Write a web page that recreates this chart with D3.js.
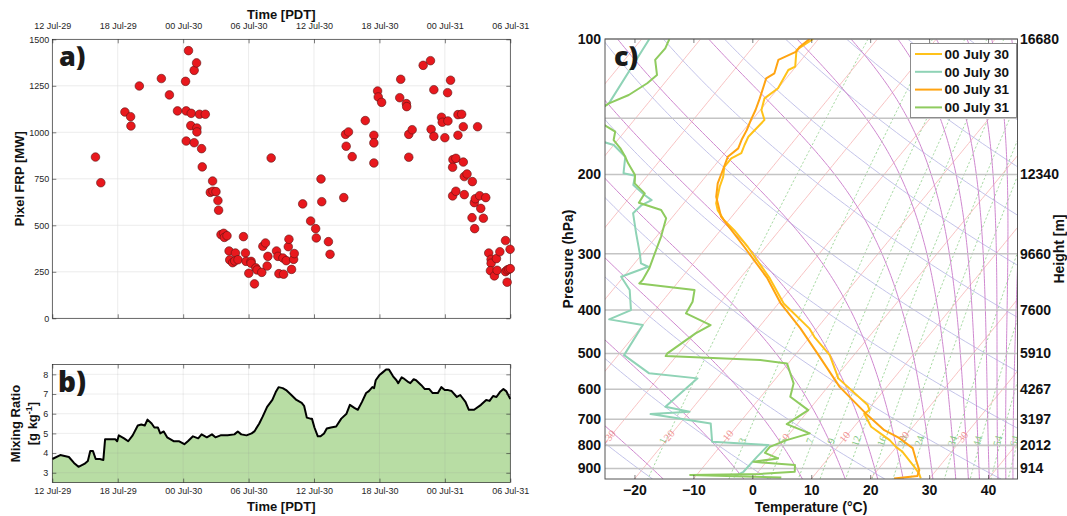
<!DOCTYPE html>
<html>
<head>
<meta charset="utf-8">
<script src="https://cdn.jsdelivr.net/npm/d3@7/dist/d3.min.js"></script>
<style>
  html, body { margin: 0; padding: 0; background: #fff; }
  svg { display: block; }
</style>
</head>
<body>
<svg id="fig" width="1067" height="516"></svg>
<script>
// ---------- time axis (hours after 12 PDT, 29 July) ----------
const tickHours  = [0, 6, 12, 18, 24, 30, 36, 42];
const tickLabels = ["12 Jul-29", "18 Jul-29", "00 Jul-30", "06 Jul-30", "12 Jul-30", "18 Jul-30", "00 Jul-31", "06 Jul-31"];

// ---------- a) pixel fire radiative power ----------
const frpTicks = [0, 250, 500, 750, 1000, 1250, 1500];
const frpHours = [3.96,4.45,6.66,7.18,7.21,7.98,10.0,10.74,11.48,12.22,12.28,12.28,12.49,12.74,12.7,13.01,13.23,13.01,13.26,13.26,
  13.5,14.03,13.69,13.75,14.7,14.49,14.73,15.01,15.19,15.25,15.47,15.72,15.78,16.02,16.21,16.27,16.54,16.79,16.73,17.03,
  17.53,17.71,17.77,18.23,18.23,18.02,18.54,18.66,18.78,19.21,19.31,19.55,19.7,19.77,20.07,20.56,20.69,20.78,
  21.15,21.21,21.45,21.64,21.7,21.94,22.13,22.19,22.96,23.69,24.15,24.21,24.64,24.71,25.32,25.47,26.73,26.89,27.16,26.95,
  27.5,28.7,29.49,29.49,29.49,29.83,29.89,30.2,31.95,31.86,32.47,32.5,32.69,33.0,32.69,34.01,34.68,34.99,34.74,34.99,
  35.69,35.76,36.0,36.25,36.28,36.52,37.2,37.54,37.2,37.69,39.0,36.74,37.01,36.71,37.69,37.78,38.03,38.52,36.71,37.01,
  37.78,38.7,38.79,39.19,39.75,39.29,38.49,39.53,38.73,40.02,40.24,40.24,40.18,40.54,40.73,41.04,40.79,41.56,41.98,41.56,
  41.71,41.86,42.0,41.71];
const frpMW = [867,729,1109,1084,1034,1249,1289,1201,1115,1274,1115,953,1439,1102,1036,1333,1373,944,1023,1002,
  1097,1097,912,814,738,677,683,681,633,581,450,457,435,444,362,314,299,351,308,315,
  439,351,306,306,296,242,185,271,260,247,387,405,281,333,862,362,333,240,
  324,237,310,385,425,263,317,348,615,523,482,432,749,627,412,344,649,989,1002,925,
  869,1063,984,943,835,1222,1190,1161,1285,1186,1154,1138,989,1014,866,1360,1385,1229,1016,978,
  1081,1054,971,1213,1061,1280,1095,1097,984,1030,1030,853,860,812,840,762,776,735,658,683,
  665,622,643,659,649,591,541,538,482,351,317,296,256,228,321,358,258,418,371,251,
  260,263,267,194];

// ---------- b) near-surface mixing ratio ----------
const mixTicks = [3, 4, 5, 6, 7, 8];
const mixHours = [0,0.73,1.52,1.99,2.40,2.94,3.26,3.48,3.73,3.98,4.36,4.68,4.84,5.79,5.95,6.10,6.58,6.96,7.37,7.84,
  8.16,8.48,8.73,9.11,9.36,9.68,9.90,10.22,10.53,10.85,11.16,11.64,12.11,12.43,12.90,13.38,13.69,14.17,14.64,14.96,
  15.43,16.07,16.70,17.01,17.33,17.81,18.28,18.53,18.98,19.29,19.70,20.18,20.49,20.75,21.13,21.44,21.92,22.39,22.87,23.09,
  23.34,23.66,23.81,24.04,24.35,24.60,24.92,25.17,25.55,26.03,26.50,26.98,27.29,27.70,28.02,28.40,28.78,29.03,29.35,29.51,
  29.66,29.98,30.30,30.61,30.87,31.25,31.56,31.72,32.04,32.20,32.67,32.83,33.14,33.36,33.84,34.16,34.57,34.88,35.36,35.67,
  35.99,36.31,36.62,37.10,37.41,37.89,38.20,38.68,39.31,39.79,40.10,40.42,40.73,41.05,41.37,41.62,42.0];
const mixRatio = [3.7,3.9,3.8,3.5,3.3,3.45,3.6,4.1,4.1,3.7,3.7,3.65,4.7,4.7,4.6,4.9,4.75,4.6,4.9,5.4,
  5.45,5.4,5.7,5.5,5.3,5.3,5.0,5.1,4.8,4.7,4.6,4.6,4.45,4.6,4.85,4.75,4.95,4.8,4.95,4.8,
  4.9,4.9,4.95,5.1,4.95,4.9,5.0,5.1,5.5,5.85,6.35,6.7,7.1,7.35,7.3,7.2,6.95,6.7,6.55,6.4,
  5.8,5.75,5.75,5.3,4.85,4.85,5.0,5.25,5.3,5.35,5.75,6.0,6.45,6.3,6.2,6.6,7.05,7.15,7.35,7.3,
  7.7,7.95,8.1,8.25,8.25,7.9,7.7,7.55,7.85,7.8,7.6,7.55,7.75,7.7,7.45,7.25,7.25,7.05,7.05,7.35,
  7.2,7.2,7.15,6.85,6.95,6.6,6.2,6.2,6.45,6.7,6.65,6.9,6.85,7.1,7.25,7.15,6.75];

// ---------- c) soundings ----------
const pressTicks   = [100, 200, 300, 400, 500, 600, 700, 800, 900];
const heightLabels = ["16680", "12340", "9660", "7600", "5910", "4267", "3197", "2012", "914"];
const pressGrid    = [100, 150, 200, 300, 400, 500, 600, 700, 800, 900];
const tempTicks    = [-20, -10, 0, 10, 20, 30, 40];

// 00 July 30: temperature and dew point (hPa, °C)
const tempP30 = [100,105.8,115.2,117.2,128.7,135.5,143.8,151.3,164.9,172,179.4,184.1,192.3,202.4,213,231.8,240,252.7,266,289.5,
  340,387,439.5,459.5,504,567.7,650.9,667.7,680,727.3,778.5,806,826.6,892.6,923.1,947];
const temp30 = [-50.9,-52.2,-50.1,-50.8,-50.0,-50.9,-49.8,-47.9,-48.3,-47.8,-47.2,-48.2,-48.2,-47.0,-46.2,-44.5,-43.3,-40.8,-37.7,-33.1,
  -25.0,-19.1,-11.3,-9.2,-4.1,0.6,9.3,10.3,9.9,12.9,17.9,19.9,21.7,25.8,27.5,28.5];
const dewP30 = [100,139,160,172,182.7,198.8,201.3,211.1,222.2,228,233.9,244,270.3,299.4,315.2,320.7,337.5,361.3,400.3,419.8,
  432.2,504,553.3,567.7,656.5,673.6,681.5,714.8,785.3,798.7,848.1,915.6,939.3];
const dew30 = [-78.7,-76.6,-80,-70.0,-66.4,-64.4,-62.1,-61.1,-57.8,-55.9,-56.9,-57.2,-53.9,-50.5,-48.9,-47.2,-50.4,-47.1,-44.1,-46.5,
  -40.0,-39.0,-32.2,-23.3,-24.8,-20.0,-26.3,-14.8,-12.0,-2.0,-2.3,-2.5,-3.5];

// 00 July 31: temperature and dew point (hPa, °C)
const tempP31 = [100,104,106.7,111.3,119.2,122.3,135.5,143.8,151.3,159.3,167.7,175,182.7,195.5,209.4,224.2,248.2,289.5,340,387,
  439.5,499,593,680,740,771,811,861,908,936,948];
const temp31 = [-51.5,-52.1,-52.0,-53.9,-52.7,-53.4,-51.7,-50.8,-50.2,-49.5,-49.0,-48.4,-49.0,-48.0,-47.0,-45.4,-41.8,-33.7,-25.4,-19.6,
  -12.8,-6.5,2.0,10.2,15.6,19.3,22.9,25.1,27.1,27.6,24.0];
const dewP31 = [100,104.9,111.3,120.2,125.4,133.2,139,148,156.6,160.7,167.7,175,182.7,188.9,200.6,209.3,220.3,231.1,239.9,250.3,
  275.1,294.4,323.3,343.3,349.2,361.3,383.6,407,432.2,450.9,499.5,506.5,516.9,525.8,582.4,623.8,667.7,717.3,752.2,778.5,
  806,831,855,870,884.8,915.6,926,931.2,942.3];
const dew31 = [-75.3,-74.7,-74.8,-72.4,-72.9,-74.4,-76.6,-78,-73.7,-71.6,-70.7,-68.4,-66.4,-65.0,-62.2,-61.1,-58.0,-57.7,-52.9,-50.9,
  -49.2,-48.2,-46.8,-46.3,-46.4,-36.1,-34.8,-34.3,-28.5,-29.9,-31.9,-31.8,-15.2,-10.2,-6.3,-5.0,-0.1,-1.8,3.4,0.4,
  -1.5,-1.5,1.5,-2.2,5.3,6.2,0.5,-11.1,4.7];

const legendNames  = ["00 July 30", "00 July 30", "00 July 31", "00 July 31"];
const legendColors = ["#ffc21a", "#8fd3b6", "#ffa412", "#8fcb5f"];

// reference line families of the skew-T diagram
const isothermVals   = d3.range(-120, 60, 10);
const isothermLabels = [-30, -20, -10, 0, 10, 20, 30];
const dryThetas      = d3.range(200, 540, 20);
const moistThetaE    = [265, 285, 305, 325, 345, 365, 395, 425, 445, 465, 485, 505, 525, 545, 565, 585, 605, 625];
const mixingW        = [1, 3, 5, 7, 9, 12, 16, 20, 24, 34, 44, 54, 64];

// ==========================================================
const svg  = d3.select("#fig");
const SANS = "'Liberation Sans', Arial, Helvetica, sans-serif";
const INK  = "#262626";

function styleAxis(g, size, weight) {
  g.select(".domain").remove();
  g.selectAll(".tick line").attr("stroke", INK).attr("stroke-width", 0.6);
  g.selectAll(".tick text").attr("font-family", SANS).attr("font-size", size)
    .attr("font-weight", weight || "normal").attr("fill", INK);
}

// ---------------- panel a ----------------
const xT = d3.scaleLinear().domain([0, 42]).range([52.3, 510.3]);
const yA = d3.scaleLinear().domain([0, 1500]).range([318.3, 39.3]);
const gA = svg.append("g");

gA.append("g").selectAll("line").data(tickHours.slice(1, -1)).join("line")
  .attr("x1", d => xT(d)).attr("x2", d => xT(d)).attr("y1", yA(0)).attr("y2", yA(1500))
  .attr("stroke", "#e4e4e4").attr("stroke-width", 0.7);
gA.append("g").selectAll("line").data(frpTicks.slice(1, -1)).join("line")
  .attr("x1", xT(0)).attr("x2", xT(42)).attr("y1", d => yA(d)).attr("y2", d => yA(d))
  .attr("stroke", "#e4e4e4").attr("stroke-width", 0.7);

gA.append("g").attr("transform", `translate(0,${yA(1500)})`)
  .call(d3.axisTop(xT).tickValues(tickHours).tickFormat((d, i) => tickLabels[i]).tickSize(-4).tickPadding(10))
  .call(styleAxis, 9);
gA.append("g").attr("transform", `translate(0,${yA(0)})`)
  .call(d3.axisBottom(xT).tickValues(tickHours).tickFormat("").tickSize(-4)).call(styleAxis, 9);
gA.append("g").attr("transform", `translate(${xT(0)},0)`)
  .call(d3.axisLeft(yA).tickValues(frpTicks).tickFormat(d3.format("d")).tickSize(-4).tickPadding(3)).call(styleAxis, 9);
gA.append("g").attr("transform", `translate(${xT(42)},0)`)
  .call(d3.axisRight(yA).tickValues(frpTicks).tickFormat("").tickSize(-4)).call(styleAxis, 9);
gA.append("rect").attr("x", xT(0)).attr("y", yA(1500)).attr("width", xT(42) - xT(0)).attr("height", yA(0) - yA(1500))
  .attr("fill", "none").attr("stroke", INK).attr("stroke-width", 0.7);

gA.append("g").selectAll("circle").data(frpHours).join("circle")
  .attr("cx", d => xT(d)).attr("cy", (d, i) => yA(frpMW[i])).attr("r", 4.3)
  .attr("fill", "#e8181d").attr("stroke", "#5c1414").attr("stroke-width", 0.6);

gA.append("text").attr("x", 59).attr("y", 66).text("a)")
  .attr("font-family", "'Open Sans', 'Liberation Sans', sans-serif").attr("font-weight", 800)
  .attr("font-size", 27).attr("fill", "#1a1a1a");
gA.append("text").attr("x", (xT(0) + xT(42)) / 2).attr("y", 18.5).attr("text-anchor", "middle")
  .attr("font-family", SANS).attr("font-weight", "bold").attr("font-size", 13).attr("fill", "#111").text("Time [PDT]");
gA.append("text").attr("transform", `translate(23.5,${(yA(0) + yA(1500)) / 2}) rotate(-90)`)
  .attr("text-anchor", "middle").attr("font-family", SANS).attr("font-weight", "bold")
  .attr("font-size", 13).attr("fill", "#111").text("Pixel FRP [MW]");

// ---------------- panel b ----------------
const yB = d3.scaleLinear().domain([2.5, 8.5]).range([482.6, 364.5]);
const gB = svg.append("g");

gB.append("path").datum(mixHours)
  .attr("d", d3.area().x(d => xT(d)).y0(yB(2.5)).y1((d, i) => yB(mixRatio[i])))
  .attr("fill", "#b8dda4");
gB.append("g").selectAll("line").data(tickHours.slice(1, -1)).join("line")
  .attr("x1", d => xT(d)).attr("x2", d => xT(d)).attr("y1", yB(2.5)).attr("y2", yB(8.5))
  .attr("stroke", "#8f8f8f").attr("stroke-opacity", 0.22).attr("stroke-width", 0.7);
gB.append("g").selectAll("line").data(mixTicks).join("line")
  .attr("x1", xT(0)).attr("x2", xT(42)).attr("y1", d => yB(d)).attr("y2", d => yB(d))
  .attr("stroke", "#8f8f8f").attr("stroke-opacity", 0.22).attr("stroke-width", 0.7);
gB.append("path").datum(mixHours)
  .attr("d", d3.line().x(d => xT(d)).y((d, i) => yB(mixRatio[i])))
  .attr("fill", "none").attr("stroke", "#000").attr("stroke-width", 2).attr("stroke-linejoin", "round");

gB.append("g").attr("transform", `translate(0,${yB(2.5)})`)
  .call(d3.axisBottom(xT).tickValues(tickHours).tickFormat((d, i) => tickLabels[i]).tickSize(-4).tickPadding(5))
  .call(styleAxis, 9);
gB.append("g").attr("transform", `translate(0,${yB(8.5)})`)
  .call(d3.axisTop(xT).tickValues(tickHours).tickFormat("").tickSize(-4)).call(styleAxis, 9);
gB.append("g").attr("transform", `translate(${xT(0)},0)`)
  .call(d3.axisLeft(yB).tickValues(mixTicks).tickFormat(d3.format("d")).tickSize(-4).tickPadding(4)).call(styleAxis, 9);
gB.append("g").attr("transform", `translate(${xT(42)},0)`)
  .call(d3.axisRight(yB).tickValues(mixTicks).tickFormat("").tickSize(-4)).call(styleAxis, 9);
gB.append("rect").attr("x", xT(0)).attr("y", yB(8.5)).attr("width", xT(42) - xT(0)).attr("height", yB(2.5) - yB(8.5))
  .attr("fill", "none").attr("stroke", INK).attr("stroke-width", 0.7);

gB.append("text").attr("x", 58).attr("y", 392).text("b)")
  .attr("font-family", "'Open Sans', 'Liberation Sans', sans-serif").attr("font-weight", 800)
  .attr("font-size", 28).attr("fill", "#1a1a1a");
gB.append("text").attr("x", (xT(0) + xT(42)) / 2).attr("y", 511).attr("text-anchor", "middle")
  .attr("font-family", SANS).attr("font-weight", "bold").attr("font-size", 13).attr("fill", "#111").text("Time [PDT]");
const yLabB = (yB(2.5) + yB(8.5)) / 2;
gB.append("text").attr("transform", `translate(20,${yLabB}) rotate(-90)`)
  .attr("text-anchor", "middle").attr("font-family", SANS).attr("font-weight", "bold")
  .attr("font-size", 13).attr("fill", "#111").text("Mixing Ratio");
const unitB = gB.append("text").attr("transform", `translate(37,${yLabB}) rotate(-90)`)
  .attr("text-anchor", "middle").attr("font-family", SANS).attr("font-weight", "bold")
  .attr("font-size", 13).attr("fill", "#111");
unitB.append("tspan").text("[g kg");
unitB.append("tspan").attr("dy", -5).attr("font-size", 9).text("-1");
unitB.append("tspan").attr("dy", 5).text("]");

// ---------------- panel c : skew-T ----------------
const skX = d3.scaleLinear().domain([-25, 45]).range([605, 1017.5]);
const skY = d3.scaleLog().domain([100, 950]).range([39, 479]);
const SKEW = 0.82;
const yBase = skY(950);
const proj = (p, T) => [skX(T) + SKEW * (yBase - skY(p)), skY(p)];

const es = T => 6.112 * Math.exp(17.67 * T / (T + 243.5));
const tdFromE = e => { const l = Math.log(e / 6.112); return 243.5 * l / (17.67 - l); };
function thetaE(T, p) {
  const e = es(T), K = T + 273.15;
  const r = 0.622 * e / Math.max(p - e, 1e-3);
  return K * Math.pow(1000 / p, 0.2857) * Math.exp(2.5e6 * r / (1004 * K));
}
function moistT(te, p) {
  let lo = -170, hi = 70;
  for (let i = 0; i < 60; i++) { const m = (lo + hi) / 2; if (thetaE(m, p) > te) hi = m; else lo = m; }
  return (lo + hi) / 2;
}
const pSamples = d3.range(0, 161).map(i => 100 * Math.pow(9.5, i / 160));
const curve = fn => pSamples.map(p => proj(p, fn(p)));
const lineXY = d3.line();

const defs = svg.append("defs");
defs.append("clipPath").attr("id", "skewClip").append("rect")
  .attr("x", 605).attr("y", 39).attr("width", 412.5).attr("height", 440);

const gC = svg.append("g");
const bg = gC.append("g").attr("clip-path", "url(#skewClip)");

bg.append("g").selectAll("path").data(mixingW).join("path")
  .attr("d", w => lineXY(curve(p => tdFromE(w * p / (622 + w)))))
  .attr("fill", "none").attr("stroke", "#8fcf8a").attr("stroke-width", 0.8).attr("stroke-dasharray", "2.2,2");
bg.append("g").selectAll("path").data(isothermVals).join("path")
  .attr("d", T => lineXY(curve(() => T)))
  .attr("fill", "none").attr("stroke", "#f6b3b3").attr("stroke-width", 0.8);
bg.append("g").selectAll("path").data(dryThetas).join("path")
  .attr("d", th => lineXY(curve(p => th * Math.pow(p / 1000, 0.2857) - 273.15)))
  .attr("fill", "none").attr("stroke", "#bcbce6").attr("stroke-width", 0.9);
bg.append("g").selectAll("path").data(moistThetaE).join("path")
  .attr("d", te => lineXY(curve(p => moistT(te, p))))
  .attr("fill", "none").attr("stroke", "#cf88cf").attr("stroke-width", 1);

// labels along the reference lines
const labP = 770;
function lineAngle(fn) {
  const a = proj(800, fn(800)), b = proj(740, fn(740));
  return Math.atan2(b[1] - a[1], b[0] - a[0]) * 180 / Math.PI;
}
bg.append("g").selectAll("text").data(mixingW).join("text")
  .attr("transform", w => {
    const f = p => tdFromE(w * p / (622 + w));
    const q = proj(labP, f(labP));
    return `translate(${q[0] - 4},${q[1] + 3}) rotate(${lineAngle(f)})`;
  })
  .attr("text-anchor", "middle").attr("dominant-baseline", "central")
  .attr("font-family", "'Liberation Serif', 'DejaVu Serif', serif").attr("font-size", 10.5)
  .attr("fill", "#86c983").text(w => w);
bg.append("g").selectAll("text").data(isothermLabels).join("text")
  .attr("transform", T => {
    const q = proj(labP, T);
    return `translate(${q[0]},${q[1] - 1}) rotate(${lineAngle(() => T)})`;
  })
  .attr("text-anchor", "middle").attr("dominant-baseline", "central")
  .attr("font-family", "'Liberation Serif', 'DejaVu Serif', serif").attr("font-size", 10.5)
  .attr("fill", "#f09696").text(T => T);

// horizontal pressure grid
gC.append("g").selectAll("line").data(pressGrid).join("line")
  .attr("x1", 605).attr("x2", 1017.5).attr("y1", p => skY(p)).attr("y2", p => skY(p))
  .attr("stroke", "#c4c4c4").attr("stroke-width", 1.6);

// sounding profiles
const prof = gC.append("g").attr("clip-path", "url(#skewClip)");
const drawProfile = (P, T, color) => prof.append("path")
  .attr("d", lineXY(P.map((p, i) => proj(p, T[i]))))
  .attr("fill", "none").attr("stroke", color).attr("stroke-width", 2).attr("stroke-linejoin", "round");
drawProfile(tempP30, temp30, legendColors[0]);
drawProfile(dewP30, dew30, legendColors[1]);
drawProfile(tempP31, temp31, legendColors[2]);
drawProfile(dewP31, dew31, legendColors[3]);

// frame and ticks
gC.append("rect").attr("x", 605).attr("y", 39).attr("width", 412.5).attr("height", 440)
  .attr("fill", "none").attr("stroke", "#555").attr("stroke-width", 1);
gC.append("g").attr("transform", "translate(0,479)")
  .call(d3.axisBottom(skX).tickValues(tempTicks).tickSize(-4).tickPadding(6))
  .call(styleAxis, 14, "bold");
gC.append("g").attr("transform", "translate(0,39)")
  .call(d3.axisTop(skX).tickValues(tempTicks).tickFormat("").tickSize(-4)).call(styleAxis, 14);
gC.selectAll(".tick text").attr("fill", "#111");

gC.append("g").selectAll("text").data(pressTicks).join("text")
  .attr("x", 601).attr("y", p => skY(p)).attr("dy", "0.35em").attr("text-anchor", "end")
  .attr("font-family", SANS).attr("font-weight", "bold").attr("font-size", 14).attr("fill", "#111")
  .text(p => p);
gC.append("g").selectAll("text").data(heightLabels).join("text")
  .attr("x", 1020).attr("y", (d, i) => skY(pressTicks[i])).attr("dy", "0.35em")
  .attr("font-family", SANS).attr("font-weight", "bold").attr("font-size", 14).attr("fill", "#111")
  .text(d => d);

gC.append("text").attr("transform", `translate(573,${(39 + 479) / 2}) rotate(-90)`)
  .attr("text-anchor", "middle").attr("font-family", SANS).attr("font-weight", "bold")
  .attr("font-size", 14).attr("fill", "#111").text("Pressure (hPa)");
gC.append("text").attr("transform", `translate(1064,${(39 + 479) / 2 - 10}) rotate(-90)`)
  .attr("text-anchor", "middle").attr("font-family", SANS).attr("font-weight", "bold")
  .attr("font-size", 14).attr("fill", "#111").text("Height [m]");
gC.append("text").attr("x", 811).attr("y", 512).attr("text-anchor", "middle")
  .attr("font-family", SANS).attr("font-weight", "bold").attr("font-size", 14).attr("fill", "#111")
  .text("Temperature (°C)");
gC.append("text").attr("x", 614).attr("y", 66).text("c)")
  .attr("font-family", "'Open Sans', 'Liberation Sans', sans-serif").attr("font-weight", 800)
  .attr("font-size", 27).attr("fill", "#1a1a1a");

// legend
const lg = gC.append("g");
lg.append("rect").attr("x", 910.5).attr("y", 43.5).attr("width", 106).attr("height", 74)
  .attr("fill", "#fff").attr("stroke", "#8c8c8c").attr("stroke-width", 1);
const rows = lg.selectAll("g").data(legendNames).join("g")
  .attr("transform", (d, i) => `translate(0,${54 + i * 17.8})`);
rows.append("line").attr("x1", 915).attr("x2", 942).attr("y1", 0).attr("y2", 0)
  .attr("stroke", (d, i) => legendColors[i]).attr("stroke-width", 2);
rows.append("text").attr("x", 944.5).attr("y", 0).attr("dy", "0.36em")
  .attr("font-family", SANS).attr("font-weight", "bold").attr("font-size", 13.5).attr("fill", "#111")
  .text(d => d);
</script>
</body>
</html>
